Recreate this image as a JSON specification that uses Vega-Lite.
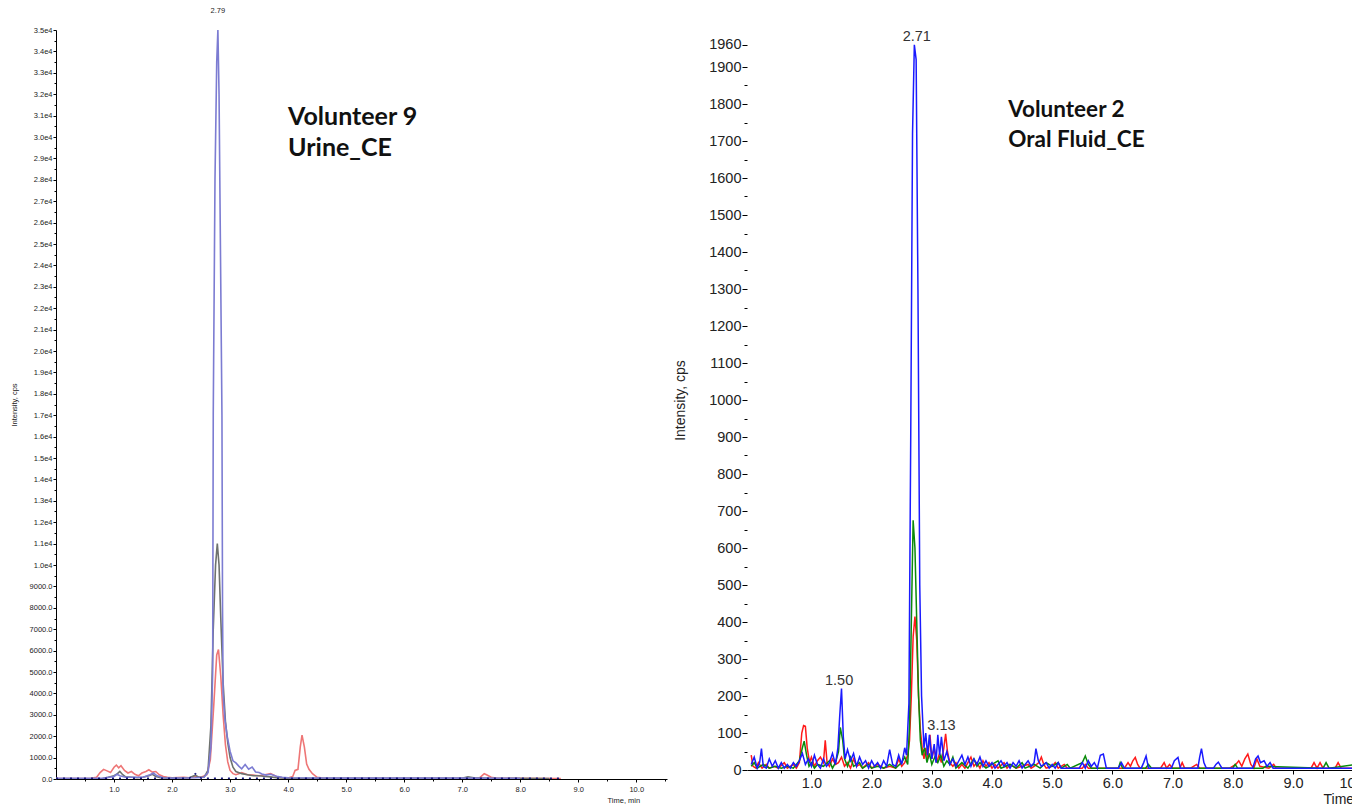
{
  "$schema": "https://vega.github.io/schema/vega-lite/v6.json",
  "background": "white",
  "padding": {"left": 10, "top": 7, "right": 0, "bottom": 0},
  "spacing": 6,
  "resolve": {"scale": {"color": "independent"}},
  "config": {
    "view": {"stroke": null},
    "axis": {"grid": false, "domainColor": "#000", "tickColor": "#000", "labelFont": "Liberation Sans", "titleFont": "Liberation Sans", "titleFontWeight": "normal", "labelColor": "#222", "titleColor": "#222"}
  },
  "datasets": {
    "left": [
      {"trace": "red", "t": 0.0, "v": 20}, {"trace": "red", "t": 0.6, "v": 30}, {"trace": "red", "t": 0.7, "v": 80}, {"trace": "red", "t": 0.76, "v": 300}, {"trace": "red", "t": 0.82, "v": 450}, {"trace": "red", "t": 0.88, "v": 380}, {"trace": "red", "t": 0.94, "v": 300}, {"trace": "red", "t": 1.0, "v": 550}, {"trace": "red", "t": 1.04, "v": 650}, {"trace": "red", "t": 1.08, "v": 520}, {"trace": "red", "t": 1.12, "v": 620}, {"trace": "red", "t": 1.18, "v": 400}, {"trace": "red", "t": 1.24, "v": 280}, {"trace": "red", "t": 1.3, "v": 350}, {"trace": "red", "t": 1.36, "v": 220}, {"trace": "red", "t": 1.42, "v": 150}, {"trace": "red", "t": 1.48, "v": 280}, {"trace": "red", "t": 1.55, "v": 350}, {"trace": "red", "t": 1.6, "v": 430}, {"trace": "red", "t": 1.66, "v": 320}, {"trace": "red", "t": 1.72, "v": 350}, {"trace": "red", "t": 1.78, "v": 200}, {"trace": "red", "t": 1.85, "v": 120}, {"trace": "red", "t": 1.92, "v": 80}, {"trace": "red", "t": 2.0, "v": 60}, {"trace": "red", "t": 2.2, "v": 80}, {"trace": "red", "t": 2.3, "v": 60}, {"trace": "red", "t": 2.4, "v": 120}, {"trace": "red", "t": 2.5, "v": 80}, {"trace": "red", "t": 2.6, "v": 200}, {"trace": "red", "t": 2.66, "v": 900}, {"trace": "red", "t": 2.72, "v": 3500}, {"trace": "red", "t": 2.77, "v": 5800}, {"trace": "red", "t": 2.8, "v": 6050}, {"trace": "red", "t": 2.84, "v": 4800}, {"trace": "red", "t": 2.88, "v": 3000}, {"trace": "red", "t": 2.92, "v": 1600}, {"trace": "red", "t": 2.96, "v": 800}, {"trace": "red", "t": 3.0, "v": 400}, {"trace": "red", "t": 3.05, "v": 250}, {"trace": "red", "t": 3.1, "v": 200}, {"trace": "red", "t": 3.15, "v": 250}, {"trace": "red", "t": 3.2, "v": 300}, {"trace": "red", "t": 3.3, "v": 200}, {"trace": "red", "t": 3.4, "v": 180}, {"trace": "red", "t": 3.5, "v": 150}, {"trace": "red", "t": 3.6, "v": 200}, {"trace": "red", "t": 3.7, "v": 250}, {"trace": "red", "t": 3.8, "v": 120}, {"trace": "red", "t": 3.9, "v": 60}, {"trace": "red", "t": 4.0, "v": 50}, {"trace": "red", "t": 4.08, "v": 120}, {"trace": "red", "t": 4.12, "v": 400}, {"trace": "red", "t": 4.17, "v": 450}, {"trace": "red", "t": 4.21, "v": 1500}, {"trace": "red", "t": 4.24, "v": 2050}, {"trace": "red", "t": 4.28, "v": 1500}, {"trace": "red", "t": 4.32, "v": 700}, {"trace": "red", "t": 4.36, "v": 450}, {"trace": "red", "t": 4.42, "v": 250}, {"trace": "red", "t": 4.5, "v": 80}, {"trace": "red", "t": 4.6, "v": 40}, {"trace": "red", "t": 5.0, "v": 30}, {"trace": "red", "t": 6.0, "v": 30}, {"trace": "red", "t": 7.0, "v": 30}, {"trace": "red", "t": 7.3, "v": 50}, {"trace": "red", "t": 7.38, "v": 250}, {"trace": "red", "t": 7.42, "v": 200}, {"trace": "red", "t": 7.5, "v": 80}, {"trace": "red", "t": 7.6, "v": 30}, {"trace": "red", "t": 8.7, "v": 20},
      {"trace": "gray", "t": 0.0, "v": 0}, {"trace": "gray", "t": 0.8, "v": 20}, {"trace": "gray", "t": 0.9, "v": 80}, {"trace": "gray", "t": 1.0, "v": 150}, {"trace": "gray", "t": 1.06, "v": 250}, {"trace": "gray", "t": 1.1, "v": 350}, {"trace": "gray", "t": 1.15, "v": 200}, {"trace": "gray", "t": 1.2, "v": 100}, {"trace": "gray", "t": 1.3, "v": 80}, {"trace": "gray", "t": 1.4, "v": 60}, {"trace": "gray", "t": 1.5, "v": 80}, {"trace": "gray", "t": 1.6, "v": 150}, {"trace": "gray", "t": 1.66, "v": 220}, {"trace": "gray", "t": 1.72, "v": 120}, {"trace": "gray", "t": 1.8, "v": 60}, {"trace": "gray", "t": 2.0, "v": 40}, {"trace": "gray", "t": 2.3, "v": 60}, {"trace": "gray", "t": 2.4, "v": 180}, {"trace": "gray", "t": 2.46, "v": 80}, {"trace": "gray", "t": 2.55, "v": 80}, {"trace": "gray", "t": 2.62, "v": 400}, {"trace": "gray", "t": 2.67, "v": 2500}, {"trace": "gray", "t": 2.71, "v": 7000}, {"trace": "gray", "t": 2.75, "v": 10000}, {"trace": "gray", "t": 2.78, "v": 11000}, {"trace": "gray", "t": 2.81, "v": 10000}, {"trace": "gray", "t": 2.84, "v": 7500}, {"trace": "gray", "t": 2.88, "v": 4500}, {"trace": "gray", "t": 2.92, "v": 2700}, {"trace": "gray", "t": 2.96, "v": 1700}, {"trace": "gray", "t": 3.0, "v": 1000}, {"trace": "gray", "t": 3.05, "v": 550}, {"trace": "gray", "t": 3.1, "v": 350}, {"trace": "gray", "t": 3.2, "v": 250}, {"trace": "gray", "t": 3.3, "v": 200}, {"trace": "gray", "t": 3.4, "v": 150}, {"trace": "gray", "t": 3.5, "v": 150}, {"trace": "gray", "t": 3.6, "v": 120}, {"trace": "gray", "t": 3.7, "v": 100}, {"trace": "gray", "t": 3.8, "v": 60}, {"trace": "gray", "t": 4.0, "v": 40}, {"trace": "gray", "t": 5.0, "v": 30}, {"trace": "gray", "t": 7.0, "v": 30}, {"trace": "gray", "t": 7.1, "v": 100}, {"trace": "gray", "t": 7.2, "v": 60}, {"trace": "gray", "t": 7.5, "v": 30}, {"trace": "gray", "t": 8.5, "v": 20},
      {"trace": "blue", "t": 0.0, "v": 30}, {"trace": "blue", "t": 0.8, "v": 30}, {"trace": "blue", "t": 1.0, "v": 120}, {"trace": "blue", "t": 1.05, "v": 220}, {"trace": "blue", "t": 1.1, "v": 150}, {"trace": "blue", "t": 1.2, "v": 80}, {"trace": "blue", "t": 1.5, "v": 80}, {"trace": "blue", "t": 1.62, "v": 200}, {"trace": "blue", "t": 1.68, "v": 280}, {"trace": "blue", "t": 1.74, "v": 150}, {"trace": "blue", "t": 1.85, "v": 60}, {"trace": "blue", "t": 2.0, "v": 40}, {"trace": "blue", "t": 2.4, "v": 60}, {"trace": "blue", "t": 2.55, "v": 80}, {"trace": "blue", "t": 2.62, "v": 300}, {"trace": "blue", "t": 2.67, "v": 1500}, {"trace": "blue", "t": 2.7, "v": 5000}, {"trace": "blue", "t": 2.71, "v": 17000}, {"trace": "blue", "t": 2.74, "v": 28000}, {"trace": "blue", "t": 2.77, "v": 33500}, {"trace": "blue", "t": 2.79, "v": 35000}, {"trace": "blue", "t": 2.81, "v": 32000}, {"trace": "blue", "t": 2.83, "v": 26000}, {"trace": "blue", "t": 2.86, "v": 17000}, {"trace": "blue", "t": 2.87, "v": 8000}, {"trace": "blue", "t": 2.88, "v": 4000}, {"trace": "blue", "t": 2.91, "v": 2800}, {"trace": "blue", "t": 2.95, "v": 2000}, {"trace": "blue", "t": 3.0, "v": 1300}, {"trace": "blue", "t": 3.05, "v": 850}, {"trace": "blue", "t": 3.1, "v": 750}, {"trace": "blue", "t": 3.15, "v": 600}, {"trace": "blue", "t": 3.2, "v": 480}, {"trace": "blue", "t": 3.26, "v": 680}, {"trace": "blue", "t": 3.32, "v": 460}, {"trace": "blue", "t": 3.38, "v": 560}, {"trace": "blue", "t": 3.44, "v": 330}, {"trace": "blue", "t": 3.5, "v": 300}, {"trace": "blue", "t": 3.55, "v": 230}, {"trace": "blue", "t": 3.62, "v": 180}, {"trace": "blue", "t": 3.7, "v": 220}, {"trace": "blue", "t": 3.8, "v": 130}, {"trace": "blue", "t": 3.9, "v": 80}, {"trace": "blue", "t": 4.0, "v": 60}, {"trace": "blue", "t": 4.5, "v": 50}, {"trace": "blue", "t": 5.0, "v": 40}, {"trace": "blue", "t": 6.0, "v": 40}, {"trace": "blue", "t": 7.0, "v": 40}, {"trace": "blue", "t": 8.0, "v": 30}
    ],
    "leftnavy": [
      {"t": 0.0, "v": 40}, {"t": 2.3, "v": 40}, {"t": 2.4, "v": 250}, {"t": 2.5, "v": 40}, {"t": 4.6, "v": 40}, {"t": 8.7, "v": 40}
    ],
    "right": [
      {"trace": "red", "t": 0.0, "v": 40}, {"trace": "red", "t": 0.03, "v": 10}, {"trace": "red", "t": 0.08, "v": 5}, {"trace": "red", "t": 0.12, "v": 20}, {"trace": "red", "t": 0.18, "v": 5}, {"trace": "red", "t": 0.25, "v": 15}, {"trace": "red", "t": 0.3, "v": 5}, {"trace": "red", "t": 0.38, "v": 10}, {"trace": "red", "t": 0.45, "v": 5}, {"trace": "red", "t": 0.55, "v": 20}, {"trace": "red", "t": 0.6, "v": 5}, {"trace": "red", "t": 0.7, "v": 15}, {"trace": "red", "t": 0.75, "v": 5}, {"trace": "red", "t": 0.8, "v": 20}, {"trace": "red", "t": 0.84, "v": 100}, {"trace": "red", "t": 0.87, "v": 120}, {"trace": "red", "t": 0.9, "v": 118}, {"trace": "red", "t": 0.93, "v": 60}, {"trace": "red", "t": 0.97, "v": 20}, {"trace": "red", "t": 1.0, "v": 35}, {"trace": "red", "t": 1.05, "v": 10}, {"trace": "red", "t": 1.1, "v": 25}, {"trace": "red", "t": 1.15, "v": 35}, {"trace": "red", "t": 1.2, "v": 20}, {"trace": "red", "t": 1.23, "v": 80}, {"trace": "red", "t": 1.26, "v": 20}, {"trace": "red", "t": 1.3, "v": 10}, {"trace": "red", "t": 1.35, "v": 30}, {"trace": "red", "t": 1.4, "v": 15}, {"trace": "red", "t": 1.45, "v": 20}, {"trace": "red", "t": 1.5, "v": 35}, {"trace": "red", "t": 1.55, "v": 10}, {"trace": "red", "t": 1.6, "v": 20}, {"trace": "red", "t": 1.65, "v": 5}, {"trace": "red", "t": 1.7, "v": 30}, {"trace": "red", "t": 1.75, "v": 10}, {"trace": "red", "t": 1.8, "v": 15}, {"trace": "red", "t": 1.85, "v": 5}, {"trace": "red", "t": 1.95, "v": 20}, {"trace": "red", "t": 2.0, "v": 5}, {"trace": "red", "t": 2.1, "v": 15}, {"trace": "red", "t": 2.2, "v": 5}, {"trace": "red", "t": 2.3, "v": 10}, {"trace": "red", "t": 2.4, "v": 5}, {"trace": "red", "t": 2.45, "v": 30}, {"trace": "red", "t": 2.5, "v": 10}, {"trace": "red", "t": 2.55, "v": 20}, {"trace": "red", "t": 2.6, "v": 40}, {"trace": "red", "t": 2.63, "v": 80}, {"trace": "red", "t": 2.66, "v": 200}, {"trace": "red", "t": 2.69, "v": 360}, {"trace": "red", "t": 2.72, "v": 415}, {"trace": "red", "t": 2.75, "v": 350}, {"trace": "red", "t": 2.78, "v": 200}, {"trace": "red", "t": 2.81, "v": 110}, {"trace": "red", "t": 2.84, "v": 60}, {"trace": "red", "t": 2.87, "v": 30}, {"trace": "red", "t": 2.9, "v": 60}, {"trace": "red", "t": 2.93, "v": 30}, {"trace": "red", "t": 2.97, "v": 95}, {"trace": "red", "t": 3.0, "v": 30}, {"trace": "red", "t": 3.04, "v": 60}, {"trace": "red", "t": 3.08, "v": 20}, {"trace": "red", "t": 3.12, "v": 40}, {"trace": "red", "t": 3.16, "v": 20}, {"trace": "red", "t": 3.2, "v": 60}, {"trace": "red", "t": 3.23, "v": 98}, {"trace": "red", "t": 3.26, "v": 50}, {"trace": "red", "t": 3.3, "v": 20}, {"trace": "red", "t": 3.35, "v": 10}, {"trace": "red", "t": 3.4, "v": 20}, {"trace": "red", "t": 3.45, "v": 5}, {"trace": "red", "t": 3.5, "v": 15}, {"trace": "red", "t": 3.55, "v": 5}, {"trace": "red", "t": 3.6, "v": 20}, {"trace": "red", "t": 3.65, "v": 35}, {"trace": "red", "t": 3.7, "v": 10}, {"trace": "red", "t": 3.75, "v": 20}, {"trace": "red", "t": 3.8, "v": 5}, {"trace": "red", "t": 3.85, "v": 25}, {"trace": "red", "t": 3.9, "v": 10}, {"trace": "red", "t": 3.95, "v": 20}, {"trace": "red", "t": 4.0, "v": 5}, {"trace": "red", "t": 4.05, "v": 15}, {"trace": "red", "t": 4.1, "v": 5}, {"trace": "red", "t": 4.2, "v": 20}, {"trace": "red", "t": 4.25, "v": 5}, {"trace": "red", "t": 4.3, "v": 15}, {"trace": "red", "t": 4.4, "v": 5}, {"trace": "red", "t": 4.5, "v": 10}, {"trace": "red", "t": 4.6, "v": 15}, {"trace": "red", "t": 4.65, "v": 5}, {"trace": "red", "t": 4.7, "v": 10}, {"trace": "red", "t": 4.78, "v": 20}, {"trace": "red", "t": 4.82, "v": 35}, {"trace": "red", "t": 4.86, "v": 15}, {"trace": "red", "t": 4.9, "v": 5}, {"trace": "red", "t": 5.0, "v": 10}, {"trace": "red", "t": 5.05, "v": 20}, {"trace": "red", "t": 5.1, "v": 5}, {"trace": "red", "t": 5.2, "v": 15}, {"trace": "red", "t": 5.25, "v": 5}, {"trace": "red", "t": 5.5, "v": 5}, {"trace": "red", "t": 5.55, "v": 15}, {"trace": "red", "t": 5.6, "v": 5}, {"trace": "red", "t": 6.2, "v": 5}, {"trace": "red", "t": 6.26, "v": 20}, {"trace": "red", "t": 6.3, "v": 10}, {"trace": "red", "t": 6.34, "v": 25}, {"trace": "red", "t": 6.38, "v": 34}, {"trace": "red", "t": 6.42, "v": 15}, {"trace": "red", "t": 6.46, "v": 5}, {"trace": "red", "t": 6.8, "v": 5}, {"trace": "red", "t": 6.86, "v": 20}, {"trace": "red", "t": 6.9, "v": 5}, {"trace": "red", "t": 6.95, "v": 15}, {"trace": "red", "t": 7.0, "v": 5}, {"trace": "red", "t": 7.12, "v": 5}, {"trace": "red", "t": 7.16, "v": 20}, {"trace": "red", "t": 7.2, "v": 5}, {"trace": "red", "t": 7.3, "v": 5}, {"trace": "red", "t": 7.4, "v": 15}, {"trace": "red", "t": 7.45, "v": 5}, {"trace": "red", "t": 7.95, "v": 5}, {"trace": "red", "t": 8.05, "v": 15}, {"trace": "red", "t": 8.1, "v": 25}, {"trace": "red", "t": 8.15, "v": 10}, {"trace": "red", "t": 8.2, "v": 30}, {"trace": "red", "t": 8.25, "v": 43}, {"trace": "red", "t": 8.3, "v": 15}, {"trace": "red", "t": 8.35, "v": 5}, {"trace": "red", "t": 8.4, "v": 30}, {"trace": "red", "t": 8.45, "v": 10}, {"trace": "red", "t": 8.6, "v": 5}, {"trace": "red", "t": 8.68, "v": 15}, {"trace": "red", "t": 8.72, "v": 5}, {"trace": "red", "t": 9.3, "v": 5}, {"trace": "red", "t": 9.35, "v": 20}, {"trace": "red", "t": 9.4, "v": 5}, {"trace": "red", "t": 9.45, "v": 20}, {"trace": "red", "t": 9.5, "v": 5}, {"trace": "red", "t": 9.7, "v": 5}, {"trace": "red", "t": 9.75, "v": 20}, {"trace": "red", "t": 9.8, "v": 5}, {"trace": "red", "t": 10.1, "v": 5},
      {"trace": "green", "t": 0.0, "v": 10}, {"trace": "green", "t": 0.05, "v": 20}, {"trace": "green", "t": 0.1, "v": 5}, {"trace": "green", "t": 0.2, "v": 15}, {"trace": "green", "t": 0.3, "v": 5}, {"trace": "green", "t": 0.4, "v": 10}, {"trace": "green", "t": 0.5, "v": 5}, {"trace": "green", "t": 0.6, "v": 10}, {"trace": "green", "t": 0.7, "v": 5}, {"trace": "green", "t": 0.8, "v": 25}, {"trace": "green", "t": 0.85, "v": 60}, {"trace": "green", "t": 0.88, "v": 78}, {"trace": "green", "t": 0.92, "v": 40}, {"trace": "green", "t": 0.96, "v": 10}, {"trace": "green", "t": 1.0, "v": 20}, {"trace": "green", "t": 1.05, "v": 5}, {"trace": "green", "t": 1.1, "v": 15}, {"trace": "green", "t": 1.2, "v": 10}, {"trace": "green", "t": 1.3, "v": 25}, {"trace": "green", "t": 1.35, "v": 5}, {"trace": "green", "t": 1.4, "v": 20}, {"trace": "green", "t": 1.45, "v": 50}, {"trace": "green", "t": 1.48, "v": 115}, {"trace": "green", "t": 1.52, "v": 80}, {"trace": "green", "t": 1.55, "v": 30}, {"trace": "green", "t": 1.6, "v": 10}, {"trace": "green", "t": 1.65, "v": 35}, {"trace": "green", "t": 1.7, "v": 10}, {"trace": "green", "t": 1.8, "v": 20}, {"trace": "green", "t": 1.85, "v": 5}, {"trace": "green", "t": 1.95, "v": 15}, {"trace": "green", "t": 2.0, "v": 5}, {"trace": "green", "t": 2.1, "v": 10}, {"trace": "green", "t": 2.2, "v": 5}, {"trace": "green", "t": 2.3, "v": 15}, {"trace": "green", "t": 2.4, "v": 5}, {"trace": "green", "t": 2.5, "v": 20}, {"trace": "green", "t": 2.55, "v": 35}, {"trace": "green", "t": 2.6, "v": 15}, {"trace": "green", "t": 2.63, "v": 120}, {"trace": "green", "t": 2.66, "v": 400}, {"trace": "green", "t": 2.69, "v": 675}, {"trace": "green", "t": 2.72, "v": 600}, {"trace": "green", "t": 2.75, "v": 400}, {"trace": "green", "t": 2.78, "v": 200}, {"trace": "green", "t": 2.81, "v": 80}, {"trace": "green", "t": 2.84, "v": 40}, {"trace": "green", "t": 2.88, "v": 60}, {"trace": "green", "t": 2.92, "v": 20}, {"trace": "green", "t": 2.96, "v": 45}, {"trace": "green", "t": 3.0, "v": 15}, {"trace": "green", "t": 3.05, "v": 35}, {"trace": "green", "t": 3.1, "v": 20}, {"trace": "green", "t": 3.15, "v": 40}, {"trace": "green", "t": 3.2, "v": 10}, {"trace": "green", "t": 3.25, "v": 25}, {"trace": "green", "t": 3.3, "v": 15}, {"trace": "green", "t": 3.35, "v": 35}, {"trace": "green", "t": 3.4, "v": 5}, {"trace": "green", "t": 3.5, "v": 20}, {"trace": "green", "t": 3.6, "v": 5}, {"trace": "green", "t": 3.7, "v": 30}, {"trace": "green", "t": 3.75, "v": 10}, {"trace": "green", "t": 3.8, "v": 20}, {"trace": "green", "t": 3.9, "v": 5}, {"trace": "green", "t": 4.0, "v": 15}, {"trace": "green", "t": 4.1, "v": 25}, {"trace": "green", "t": 4.15, "v": 5}, {"trace": "green", "t": 4.3, "v": 15}, {"trace": "green", "t": 4.4, "v": 5}, {"trace": "green", "t": 4.5, "v": 20}, {"trace": "green", "t": 4.55, "v": 5}, {"trace": "green", "t": 4.7, "v": 15}, {"trace": "green", "t": 4.8, "v": 5}, {"trace": "green", "t": 4.9, "v": 20}, {"trace": "green", "t": 5.0, "v": 10}, {"trace": "green", "t": 5.1, "v": 20}, {"trace": "green", "t": 5.15, "v": 5}, {"trace": "green", "t": 5.25, "v": 15}, {"trace": "green", "t": 5.3, "v": 5}, {"trace": "green", "t": 5.5, "v": 20}, {"trace": "green", "t": 5.55, "v": 38}, {"trace": "green", "t": 5.6, "v": 15}, {"trace": "green", "t": 5.65, "v": 5}, {"trace": "green", "t": 6.1, "v": 5}, {"trace": "green", "t": 6.13, "v": 20}, {"trace": "green", "t": 6.17, "v": 5}, {"trace": "green", "t": 6.55, "v": 5}, {"trace": "green", "t": 6.6, "v": 15}, {"trace": "green", "t": 6.65, "v": 5}, {"trace": "green", "t": 8.0, "v": 5}, {"trace": "green", "t": 8.04, "v": 15}, {"trace": "green", "t": 8.08, "v": 5}, {"trace": "green", "t": 8.5, "v": 5}, {"trace": "green", "t": 8.55, "v": 10}, {"trace": "green", "t": 9.5, "v": 5}, {"trace": "green", "t": 9.55, "v": 20}, {"trace": "green", "t": 9.6, "v": 5}, {"trace": "green", "t": 10.05, "v": 15}, {"trace": "green", "t": 10.1, "v": 5},
      {"trace": "blue", "t": 0.0, "v": 15}, {"trace": "blue", "t": 0.05, "v": 35}, {"trace": "blue", "t": 0.1, "v": 5}, {"trace": "blue", "t": 0.14, "v": 20}, {"trace": "blue", "t": 0.17, "v": 58}, {"trace": "blue", "t": 0.2, "v": 10}, {"trace": "blue", "t": 0.25, "v": 5}, {"trace": "blue", "t": 0.3, "v": 30}, {"trace": "blue", "t": 0.35, "v": 10}, {"trace": "blue", "t": 0.4, "v": 25}, {"trace": "blue", "t": 0.45, "v": 5}, {"trace": "blue", "t": 0.5, "v": 20}, {"trace": "blue", "t": 0.55, "v": 5}, {"trace": "blue", "t": 0.6, "v": 15}, {"trace": "blue", "t": 0.65, "v": 5}, {"trace": "blue", "t": 0.7, "v": 20}, {"trace": "blue", "t": 0.75, "v": 10}, {"trace": "blue", "t": 0.8, "v": 25}, {"trace": "blue", "t": 0.85, "v": 45}, {"trace": "blue", "t": 0.9, "v": 15}, {"trace": "blue", "t": 0.95, "v": 30}, {"trace": "blue", "t": 1.0, "v": 10}, {"trace": "blue", "t": 1.05, "v": 40}, {"trace": "blue", "t": 1.1, "v": 15}, {"trace": "blue", "t": 1.15, "v": 5}, {"trace": "blue", "t": 1.2, "v": 30}, {"trace": "blue", "t": 1.25, "v": 10}, {"trace": "blue", "t": 1.3, "v": 20}, {"trace": "blue", "t": 1.35, "v": 45}, {"trace": "blue", "t": 1.4, "v": 15}, {"trace": "blue", "t": 1.44, "v": 60}, {"trace": "blue", "t": 1.47, "v": 145}, {"trace": "blue", "t": 1.5, "v": 220}, {"trace": "blue", "t": 1.53, "v": 90}, {"trace": "blue", "t": 1.56, "v": 30}, {"trace": "blue", "t": 1.6, "v": 55}, {"trace": "blue", "t": 1.65, "v": 25}, {"trace": "blue", "t": 1.7, "v": 45}, {"trace": "blue", "t": 1.75, "v": 10}, {"trace": "blue", "t": 1.8, "v": 35}, {"trace": "blue", "t": 1.85, "v": 15}, {"trace": "blue", "t": 1.9, "v": 25}, {"trace": "blue", "t": 1.95, "v": 5}, {"trace": "blue", "t": 2.0, "v": 25}, {"trace": "blue", "t": 2.05, "v": 10}, {"trace": "blue", "t": 2.1, "v": 20}, {"trace": "blue", "t": 2.15, "v": 5}, {"trace": "blue", "t": 2.2, "v": 25}, {"trace": "blue", "t": 2.25, "v": 10}, {"trace": "blue", "t": 2.3, "v": 55}, {"trace": "blue", "t": 2.35, "v": 15}, {"trace": "blue", "t": 2.4, "v": 10}, {"trace": "blue", "t": 2.45, "v": 40}, {"trace": "blue", "t": 2.5, "v": 15}, {"trace": "blue", "t": 2.55, "v": 60}, {"trace": "blue", "t": 2.58, "v": 40}, {"trace": "blue", "t": 2.62, "v": 180}, {"trace": "blue", "t": 2.65, "v": 900}, {"trace": "blue", "t": 2.68, "v": 1720}, {"trace": "blue", "t": 2.71, "v": 1960}, {"trace": "blue", "t": 2.74, "v": 1920}, {"trace": "blue", "t": 2.77, "v": 1300}, {"trace": "blue", "t": 2.8, "v": 500}, {"trace": "blue", "t": 2.83, "v": 200}, {"trace": "blue", "t": 2.87, "v": 60}, {"trace": "blue", "t": 2.9, "v": 100}, {"trace": "blue", "t": 2.93, "v": 40}, {"trace": "blue", "t": 2.96, "v": 95}, {"trace": "blue", "t": 3.0, "v": 30}, {"trace": "blue", "t": 3.04, "v": 70}, {"trace": "blue", "t": 3.07, "v": 20}, {"trace": "blue", "t": 3.1, "v": 95}, {"trace": "blue", "t": 3.13, "v": 40}, {"trace": "blue", "t": 3.16, "v": 90}, {"trace": "blue", "t": 3.2, "v": 25}, {"trace": "blue", "t": 3.25, "v": 50}, {"trace": "blue", "t": 3.3, "v": 15}, {"trace": "blue", "t": 3.35, "v": 30}, {"trace": "blue", "t": 3.4, "v": 10}, {"trace": "blue", "t": 3.45, "v": 25}, {"trace": "blue", "t": 3.5, "v": 40}, {"trace": "blue", "t": 3.55, "v": 15}, {"trace": "blue", "t": 3.6, "v": 35}, {"trace": "blue", "t": 3.65, "v": 10}, {"trace": "blue", "t": 3.7, "v": 30}, {"trace": "blue", "t": 3.75, "v": 15}, {"trace": "blue", "t": 3.8, "v": 35}, {"trace": "blue", "t": 3.85, "v": 10}, {"trace": "blue", "t": 3.9, "v": 25}, {"trace": "blue", "t": 3.95, "v": 10}, {"trace": "blue", "t": 4.0, "v": 20}, {"trace": "blue", "t": 4.05, "v": 5}, {"trace": "blue", "t": 4.1, "v": 15}, {"trace": "blue", "t": 4.15, "v": 25}, {"trace": "blue", "t": 4.2, "v": 10}, {"trace": "blue", "t": 4.25, "v": 20}, {"trace": "blue", "t": 4.3, "v": 5}, {"trace": "blue", "t": 4.35, "v": 20}, {"trace": "blue", "t": 4.4, "v": 10}, {"trace": "blue", "t": 4.45, "v": 25}, {"trace": "blue", "t": 4.5, "v": 5}, {"trace": "blue", "t": 4.55, "v": 15}, {"trace": "blue", "t": 4.6, "v": 25}, {"trace": "blue", "t": 4.65, "v": 10}, {"trace": "blue", "t": 4.7, "v": 20}, {"trace": "blue", "t": 4.73, "v": 58}, {"trace": "blue", "t": 4.77, "v": 25}, {"trace": "blue", "t": 4.82, "v": 10}, {"trace": "blue", "t": 4.9, "v": 20}, {"trace": "blue", "t": 4.95, "v": 5}, {"trace": "blue", "t": 5.0, "v": 15}, {"trace": "blue", "t": 5.05, "v": 5}, {"trace": "blue", "t": 5.1, "v": 20}, {"trace": "blue", "t": 5.15, "v": 5}, {"trace": "blue", "t": 5.45, "v": 5}, {"trace": "blue", "t": 5.5, "v": 20}, {"trace": "blue", "t": 5.55, "v": 5}, {"trace": "blue", "t": 5.6, "v": 25}, {"trace": "blue", "t": 5.65, "v": 10}, {"trace": "blue", "t": 5.7, "v": 20}, {"trace": "blue", "t": 5.75, "v": 5}, {"trace": "blue", "t": 5.8, "v": 40}, {"trace": "blue", "t": 5.85, "v": 43}, {"trace": "blue", "t": 5.9, "v": 5}, {"trace": "blue", "t": 6.1, "v": 5}, {"trace": "blue", "t": 6.15, "v": 20}, {"trace": "blue", "t": 6.2, "v": 5}, {"trace": "blue", "t": 6.48, "v": 5}, {"trace": "blue", "t": 6.52, "v": 20}, {"trace": "blue", "t": 6.56, "v": 38}, {"trace": "blue", "t": 6.6, "v": 5}, {"trace": "blue", "t": 6.98, "v": 5}, {"trace": "blue", "t": 7.03, "v": 25}, {"trace": "blue", "t": 7.09, "v": 34}, {"trace": "blue", "t": 7.13, "v": 5}, {"trace": "blue", "t": 7.42, "v": 5}, {"trace": "blue", "t": 7.45, "v": 35}, {"trace": "blue", "t": 7.48, "v": 58}, {"trace": "blue", "t": 7.52, "v": 20}, {"trace": "blue", "t": 7.56, "v": 5}, {"trace": "blue", "t": 7.68, "v": 5}, {"trace": "blue", "t": 7.72, "v": 15}, {"trace": "blue", "t": 7.76, "v": 21}, {"trace": "blue", "t": 7.82, "v": 5}, {"trace": "blue", "t": 8.33, "v": 5}, {"trace": "blue", "t": 8.38, "v": 30}, {"trace": "blue", "t": 8.42, "v": 38}, {"trace": "blue", "t": 8.46, "v": 20}, {"trace": "blue", "t": 8.52, "v": 25}, {"trace": "blue", "t": 8.57, "v": 10}, {"trace": "blue", "t": 8.62, "v": 20}, {"trace": "blue", "t": 8.67, "v": 5}, {"trace": "blue", "t": 10.1, "v": 5}
    ],
    "leftText": [
      {"t": 4.0, "v": 30935, "label": "Volunteer 9"},
      {"t": 4.0, "v": 29487, "label": "Urine_CE"}
    ],
    "rightText": [
      {"t": 4.27, "v": 1784, "label": "Volunteer 2"},
      {"t": 4.27, "v": 1703, "label": "Oral Fluid_CE"}
    ],
    "leftPeak": [
      {"t": 2.79, "v": 35700, "label": "2.79"}
    ],
    "rightPeak": [
      {"t": 2.75, "v": 1981, "label": "2.71"},
      {"t": 1.46, "v": 240, "label": "1.50"},
      {"t": 3.16, "v": 119, "label": "3.13"}
    ]
  },
  "hconcat": [
    {
      "width": 611,
      "height": 749,
      "layer": [
        {
          "data": {"name": "left"},
          "mark": {"type": "line", "strokeWidth": 1.6, "clip": true},
          "encoding": {
            "x": {"field": "t", "type": "quantitative", "scale": {"domain": [0, 10.53], "nice": false, "zero": false},
              "axis": {"title": "Time, min", "tickCount": 200, "values": [0.5, 1, 1.5, 2, 2.5, 3, 3.5, 4, 4.5, 5, 5.5, 6, 6.5, 7, 7.5, 8, 8.5, 9, 9.5, 10, 10.5],
                "labelExpr": "datum.value % 1 === 0 ? format(datum.value, '.1f') : ''",
                "tickSize": {"condition": {"test": "datum.value % 1 === 0", "value": 3}, "value": 2},
                "labelFontSize": 7.5, "labelPadding": 3, "labelOverlap": false, "labelFlush": false,
                "titleFontSize": 7.5, "titleX": 551, "titleY": 21, "titleAlign": "left", "titleBaseline": "middle", "titleAnchor": "start"}},
            "y": {"field": "v", "type": "quantitative", "scale": {"domain": [0, 35000], "nice": false},
              "axis": {"title": "Intensity, cps", "tickCount": 200, "values": [0,500,1000,1500,2000,2500,3000,3500,4000,4500,5000,5500,6000,6500,7000,7500,8000,8500,9000,9500,10000,10500,11000,11500,12000,12500,13000,13500,14000,14500,15000,15500,16000,16500,17000,17500,18000,18500,19000,19500,20000,20500,21000,21500,22000,22500,23000,23500,24000,24500,25000,25500,26000,26500,27000,27500,28000,28500,29000,29500,30000,30500,31000,31500,32000,32500,33000,33500,34000,34500,35000],
                "labelExpr": "datum.value % 1000 !== 0 ? '' : (datum.value < 10000 ? format(datum.value, '.1f') : format(datum.value / 10000, '.1f') + 'e4')",
                "tickSize": {"condition": {"test": "datum.value % 1000 === 0", "value": 3}, "value": 2},
                "labelFontSize": 7.5, "labelPadding": 1, "labelOverlap": false, "labelFlush": false,
                "titleFontSize": 7.5, "titlePadding": 11}},
            "color": {"field": "trace", "type": "nominal", "scale": {"domain": ["red", "gray", "blue"], "range": ["#ee7676", "#6e726e", "#7c7cd2"]}, "legend": null}
          }
        },
        {
          "data": {"name": "leftnavy"},
          "mark": {"type": "line", "strokeWidth": 1.5, "color": "#1a1a80", "strokeDash": [2, 5], "clip": true},
          "encoding": {
            "x": {"field": "t", "type": "quantitative"},
            "y": {"field": "v", "type": "quantitative"}
          }
        },
        {
          "data": {"name": "leftPeak"},
          "mark": {"type": "text", "fontSize": 7.5, "font": "Liberation Sans", "color": "#222", "baseline": "bottom", "clip": false},
          "encoding": {
            "x": {"field": "t", "type": "quantitative"},
            "y": {"field": "v", "type": "quantitative"},
            "text": {"field": "label"}
          }
        },
        {
          "data": {"name": "leftText"},
          "mark": {"type": "text", "fontSize": 25, "font": "Lato", "fontWeight": "bold", "color": "#111", "align": "left", "baseline": "middle"},
          "encoding": {
            "x": {"field": "t", "type": "quantitative"},
            "y": {"field": "v", "type": "quantitative"},
            "text": {"field": "label"}
          }
        },
        {
          "mark": {"type": "rule", "color": "#333", "strokeWidth": 1.2, "clip": false},
          "encoding": {
            "x": {"datum": 10.53},
            "y": {"datum": -1300},
            "y2": {"datum": 36350}
          }
        },
        {
          "mark": {"type": "point", "shape": "triangle-right", "filled": true, "color": "#10107a", "size": 35, "opacity": 1, "clip": false},
          "encoding": {
            "x": {"datum": 0.06},
            "y": {"datum": 1700}
          }
        }
      ]
    },
    {
      "width": 620,
      "height": 740,
      "layer": [
        {
          "data": {"name": "right"},
          "mark": {"type": "line", "strokeWidth": 1.5, "clip": true},
          "encoding": {
            "x": {"field": "t", "type": "quantitative", "scale": {"domain": [-0.07, 10.23], "nice": false, "zero": false},
              "axis": {"title": "Time, min", "tickCount": 200, "values": [0.5, 1, 1.5, 2, 2.5, 3, 3.5, 4, 4.5, 5, 5.5, 6, 6.5, 7, 7.5, 8, 8.5, 9, 9.5, 10],
                "labelExpr": "datum.value % 1 === 0 ? format(datum.value, '.1f') : ''",
                "tickSize": {"condition": {"test": "datum.value % 1 === 0", "value": 4}, "value": 3},
                "labelFontSize": 14.5, "labelPadding": 2, "labelOverlap": false, "labelFlush": false,
                "titleFontSize": 14, "titleX": 576, "titleY": 29, "titleAlign": "left", "titleBaseline": "middle", "titleAnchor": "start"}},
            "y": {"field": "v", "type": "quantitative", "scale": {"domain": [0, 2000], "nice": false},
              "axis": {"title": "Intensity, cps", "domain": false, "tickCount": 200, "values": [0,50,100,150,200,250,300,350,400,450,500,550,600,650,700,750,800,850,900,950,1000,1050,1100,1150,1200,1250,1300,1350,1400,1450,1500,1550,1600,1650,1700,1750,1800,1850,1900,1960],
                "labelExpr": "(datum.value % 100 === 0 || datum.value === 1960) ? format(datum.value, 'd') : ''",
                "tickSize": {"condition": {"test": "datum.value % 100 === 0 || datum.value === 1960", "value": 5}, "value": 3},
                "labelFontSize": 14.5, "labelPadding": 1, "labelOverlap": false, "labelFlush": false,
                "titleFontSize": 14, "titlePadding": 21}},
            "color": {"field": "trace", "type": "nominal", "scale": {"domain": ["red", "green", "blue"], "range": ["#ff1a1a", "#0a8a0a", "#1a1aff"]}, "legend": null}
          }
        },
        {
          "mark": {"type": "rule", "color": "#000", "strokeWidth": 1, "clip": false},
          "encoding": {
            "x": {"datum": -0.07},
            "y": {"datum": 0},
            "y2": {"datum": 1960}
          }
        },
        {
          "data": {"name": "rightPeak"},
          "mark": {"type": "text", "fontSize": 14.5, "font": "Liberation Sans", "color": "#333", "baseline": "middle", "clip": false},
          "encoding": {
            "x": {"field": "t", "type": "quantitative"},
            "y": {"field": "v", "type": "quantitative"},
            "text": {"field": "label"}
          }
        },
        {
          "data": {"name": "rightText"},
          "mark": {"type": "text", "fontSize": 22.5, "font": "Lato", "fontWeight": "bold", "color": "#111", "align": "left", "baseline": "middle"},
          "encoding": {
            "x": {"field": "t", "type": "quantitative"},
            "y": {"field": "v", "type": "quantitative"},
            "text": {"field": "label"}
          }
        },
        {
          "mark": {"type": "point", "shape": "triangle-right", "filled": true, "color": "#10107a", "size": 60, "opacity": 1, "clip": false},
          "encoding": {
            "x": {"datum": -0.02},
            "y": {"datum": 95}
          }
        }
      ]
    }
  ]
}
